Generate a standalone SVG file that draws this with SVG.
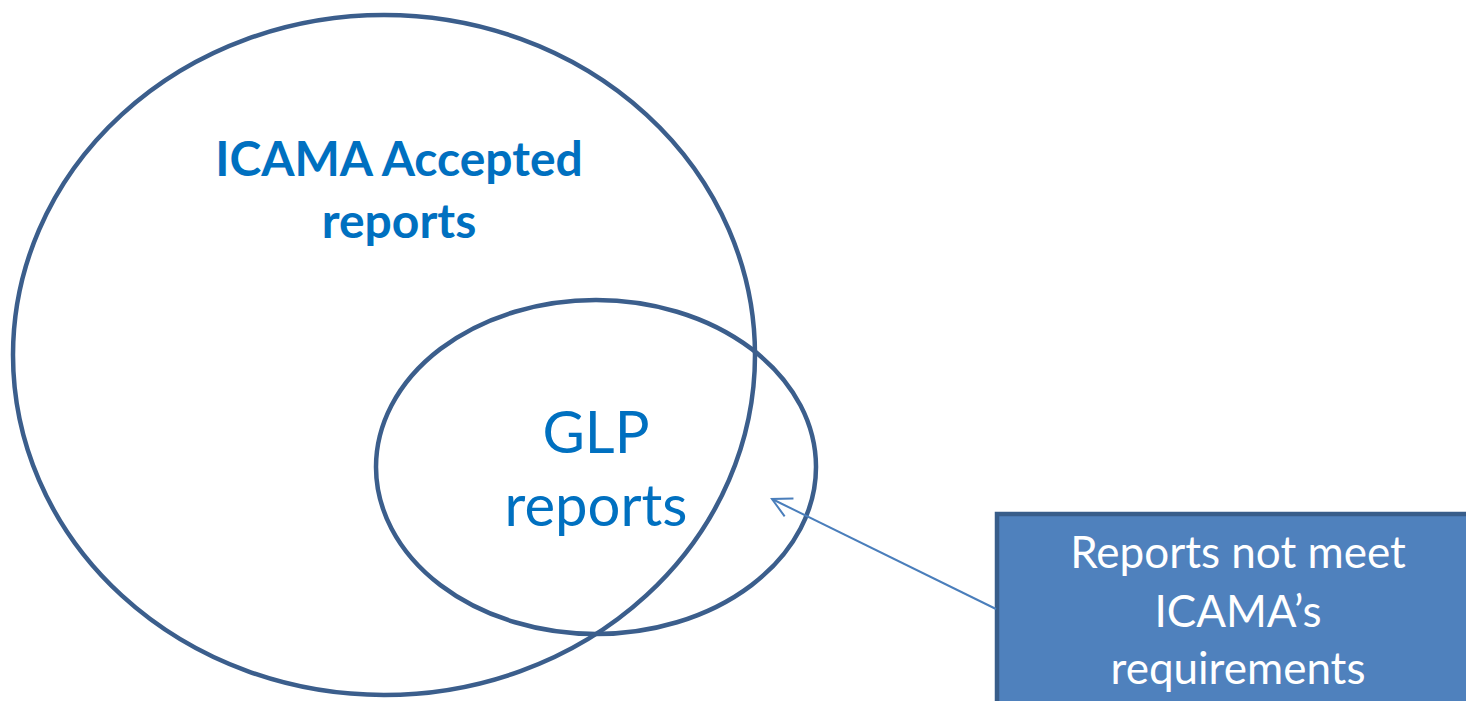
<svg xmlns="http://www.w3.org/2000/svg" width="1466" height="701" viewBox="0 0 1466 701">
<defs>
<style>
.ring{fill:none;stroke:#3B5E8C;stroke-width:4.5}
.lbl{font-family:Lato,"Open Sans","Liberation Sans",sans-serif;fill:#0070C0;text-anchor:middle}
.wt{font-family:Lato,"Open Sans","Liberation Sans",sans-serif;fill:#FFFFFF;text-anchor:middle;font-size:44px}
</style>
<marker id="open" viewBox="0 0 22 22" refX="20" refY="11" markerWidth="22" markerHeight="22" markerUnits="userSpaceOnUse" orient="auto">
<path d="M1,1 L20,11 L1,21" fill="none" stroke="#4A7EBB" stroke-width="2"/>
</marker>
</defs>
<rect width="1466" height="701" fill="#FFFFFF"/>
<g id="icama">
<ellipse class="ring" cx="384" cy="355" rx="371" ry="340"/>
<text class="lbl" font-weight="bold" font-size="48" x="399" y="176">ICAMA Accepted</text>
<text class="lbl" font-weight="bold" font-size="48" x="399" y="238">reports</text>
</g>
<g id="glp">
<ellipse class="ring" cx="596" cy="467" rx="220" ry="167"/>
<text class="lbl" font-size="58" x="596" y="453">GLP</text>
<text class="lbl" font-size="58" x="596" y="526">reports</text>
</g>
<g id="box">
<rect x="997" y="514" width="490" height="200" fill="#4F81BD" stroke="#385D8A" stroke-width="4.5"/>
<text class="wt" x="1238" y="568">Reports not meet</text>
<text class="wt" x="1238" y="627">ICAMA’s</text>
<text class="wt" x="1238" y="684">requirements</text>
</g>
<g id="connectors">
<line x1="996" y1="609" x2="772" y2="499" stroke="#4A7EBB" stroke-width="2" marker-end="url(#open)"/>
</g>
</svg>
